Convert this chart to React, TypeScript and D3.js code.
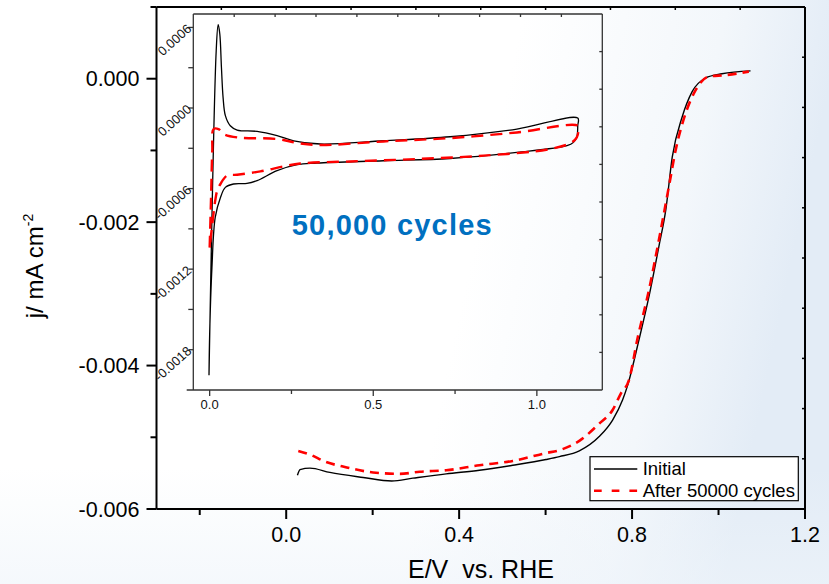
import React from "react";
import * as d3 from "d3";

// ---------- Data (main LSV curves) ----------
const initialE = [0.026, 0.032, 0.055, 0.101, 0.178, 0.244, 0.293, 0.370, 0.447, 0.524, 0.601, 0.632, 0.678, 0.724, 0.755, 0.778, 0.789, 0.816, 0.839, 0.862, 0.878, 0.893, 0.916, 0.939, 0.970, 1.008, 1.074];
const initialJ = [-0.00553, -0.00545, -0.00543, -0.00549, -0.00556, -0.00561, -0.00557, -0.00551, -0.00546, -0.00539, -0.00531, -0.00527, -0.00519, -0.00499, -0.00476, -0.00448, -0.00429, -0.00364, -0.00304, -0.00234, -0.00183, -0.00109, -0.00053, -0.00018, 0.00001, 0.00007, 0.00011];
const afterE = [0.028, 0.059, 0.086, 0.140, 0.201, 0.263, 0.309, 0.370, 0.447, 0.524, 0.601, 0.632, 0.678, 0.724, 0.755, 0.774, 0.793, 0.812, 0.839, 0.862, 0.885, 0.901, 0.924, 0.947, 0.977, 1.016, 1.070];
const afterJ = [-0.00519, -0.00525, -0.00533, -0.00542, -0.00549, -0.00551, -0.00548, -0.00546, -0.00539, -0.00533, -0.00522, -0.00518, -0.00505, -0.00481, -0.00462, -0.00439, -0.00420, -0.00364, -0.00295, -0.00225, -0.00151, -0.00099, -0.00048, -0.00016, 0.00003, 0.00005, 0.00010];

// ---------- Data (inset CV curves) ----------
const cvInitialE = [-0.002, 0.020, 0.026, 0.031, 0.036, 0.041, 0.048, 0.063, 0.084, 0.145, 0.206, 0.257, 0.338, 0.531, 0.735, 0.939, 1.125, 1.125, 1.122, 1.112, 1.092, 0.939, 0.735, 0.531, 0.328, 0.267, 0.206, 0.145, 0.114, 0.073, 0.048, 0.033, 0.017, 0.007, 0.000, -0.002];
const cvInitialJ = [-0.00199, 0.000427, 0.00062, 0.000551, 0.000302, 0.000079, -0.000057, -0.000132, -0.000164, -0.000174, -0.000206, -0.000244, -0.000268, -0.000244, -0.000214, -0.000157, -0.000075, -0.000132, -0.000219, -0.000256, -0.000281, -0.000331, -0.000376, -0.000393, -0.00041, -0.000422, -0.000467, -0.000541, -0.000562, -0.000566, -0.000591, -0.000666, -0.000815, -0.001187, -0.001683, -0.00199];
const cvAfterE = [0.000, 0.004, 0.008, 0.012, 0.027, 0.043, 0.084, 0.206, 0.277, 0.338, 0.531, 0.735, 0.939, 1.125, 1.127, 1.122, 1.107, 1.040, 0.837, 0.633, 0.430, 0.277, 0.226, 0.155, 0.084, 0.053, 0.033, 0.023, 0.017, 0.007, 0.000];
const cvAfterJ = [-0.00104, -0.00069, -0.000319, -0.000157, -0.000157, -0.000194, -0.000219, -0.000231, -0.000264, -0.000276, -0.000249, -0.000224, -0.000182, -0.000132, -0.000169, -0.000219, -0.000256, -0.000306, -0.000355, -0.00038, -0.000398, -0.000413, -0.000435, -0.000472, -0.000497, -0.000504, -0.000566, -0.000616, -0.00069, -0.000889, -0.00104];

// ---------- Ticks ----------
const mainXTicks = [0.0, 0.4, 0.8, 1.2];
const mainXLabels = ["0.0", "0.4", "0.8", "1.2"];
const mainXMinor = [-0.2, 0.2, 0.6, 1.0];
const mainYTicks = [0.0, -0.002, -0.004, -0.006];
const mainYLabels = ["0.000", "-0.002", "-0.004", "-0.006"];
const mainYMinor = [0.001, -0.001, -0.003, -0.005];
const insetXTicks = [0.0, 0.5, 1.0];
const insetXLabels = ["0.0", "0.5", "1.0"];
const insetXMinor = [0.25, 0.75];
const insetYTicks = [0.0006, 0.0, -0.0006, -0.0012, -0.0018];
const insetYLabels = ["0.0006", "0.0000", "-0.0006", "-0.0012", "-0.0018"];
const insetYMinor = [0.0003, -0.0003, -0.0009, -0.0015];

const seriesNames = ["Initial", "After 50000 cycles"];
const FONT = "'Liberation Sans', Arial, Helvetica, sans-serif";

function divisions(domain: number[], n: number) {
  return d3.range(1, n).map((i) => domain[0] + (i * (domain[1] - domain[0])) / n);
}

export default function App() {
  const W = 829, H = 584;
  const x = d3.scaleLinear().domain([-0.3, 1.2]).range([156.5, 805]);
  const y = d3.scaleLinear().domain([-0.006, 0.001]).range([509, 7]);
  const xi = d3.scaleLinear().domain([-0.05, 1.2]).range([193.3, 602.3]);
  const yi = d3.scaleLinear().domain([-0.0021, 0.0007]).range([390, 14]);

  const mainLine = d3.line<[number, number]>().x((d) => x(d[0])).y((d) => y(d[1])).curve(d3.curveMonotoneX);
  const cvLine = d3.line<[number, number]>().x((d) => xi(d[0])).y((d) => yi(d[1])).curve(d3.curveCatmullRom.alpha(0.5));

  const zipPts = (a: number[], b: number[]) => a.map((v, i) => [v, b[i]] as [number, number]);

  const [x0, x1] = x.range();
  const [yb, yt] = y.range();
  const [ix0, ix1] = xi.range();
  const [iyb, iyt] = yi.range();

  return (
    <div style={{ position: "absolute", left: 0, top: 0, width: W, height: H }}>
      <svg width={W} height={H} style={{ display: "block" }} fontFamily={FONT}>
        <defs>
          <linearGradient id="bg" x1="0" y1="0" x2="1" y2="0.15">
            <stop offset="0" stopColor="#ffffff" />
            <stop offset="0.62" stopColor="#ffffff" />
            <stop offset="0.86" stopColor="#f3f7fb" />
            <stop offset="1" stopColor="#e3ecf6" />
          </linearGradient>
          <linearGradient id="bg2" x1="0" y1="0" x2="0" y2="1">
            <stop offset="0.8" stopColor="#eef4fa" stopOpacity="0" />
            <stop offset="1" stopColor="#eef4fa" stopOpacity="0.6" />
          </linearGradient>
        </defs>
        <rect x={0} y={0} width={W} height={H} fill="url(#bg)" />
        <rect x={0} y={0} width={W} height={H} fill="url(#bg2)" />

        {/* ---------- Main axes ---------- */}
        <g stroke="#000" strokeWidth={2} fill="none">
          <line x1={x0} y1={yb} x2={x1} y2={yb} />
          <line x1={x0} y1={yt} x2={x1} y2={yt} />
          <line x1={x0} y1={yb} x2={x0} y2={yt} />
          <line x1={x1} y1={yb} x2={x1} y2={yt} />
          {mainXTicks.map((t) => (
            <line key={"mxt" + t} x1={x(t)} x2={x(t)} y1={yb} y2={yb + 10} />
          ))}
          {mainXMinor.map((t) => (
            <line key={"mxm" + t} x1={x(t)} x2={x(t)} y1={yb} y2={yb + 6} />
          ))}
          {mainYTicks.map((t) => (
            <line key={"myt" + t} x1={x0 - 10} x2={x0} y1={y(t)} y2={y(t)} />
          ))}
          {mainYMinor.map((t) => (
            <line key={"mym" + t} x1={x0 - 6} x2={x0} y1={y(t)} y2={y(t)} />
          ))}
          {divisions(x.domain(), 10).map((t, i) => (
            <line key={"mtop" + i} x1={x(t)} x2={x(t)} y1={yt} y2={yt + 3} strokeWidth={1.5} />
          ))}
          {divisions(y.domain(), 10).map((t, i) => (
            <line key={"mright" + i} x1={x1 - 3} x2={x1} y1={y(t)} y2={y(t)} strokeWidth={1.5} />
          ))}
        </g>
        <g fontSize={21.5} fill="#000">
          {mainXTicks.map((t, i) => (
            <text key={"mxl" + t} x={x(t)} y={542} textAnchor="middle">{mainXLabels[i]}</text>
          ))}
          {mainYTicks.map((t, i) => (
            <text key={"myl" + t} x={139.5} y={y(t) + 7.5} textAnchor="end">{mainYLabels[i]}</text>
          ))}
        </g>
        <text x={408} y={578} fontSize={25} fill="#000" xmlSpace="preserve">E/V  vs. RHE</text>
        <text transform="translate(43,266) rotate(-90)" fontSize={24} textAnchor="middle" fill="#000">
          j/ mA cm<tspan fontSize={14} dy={-10}>-2</tspan>
        </text>

        {/* ---------- Main curves ---------- */}
        <path d={mainLine(zipPts(initialE, initialJ)) || ""} fill="none" stroke="#000" strokeWidth={1.4} />
        <path d={mainLine(zipPts(afterE, afterJ)) || ""} fill="none" stroke="#ff0000" strokeWidth={2.6} strokeDasharray="9,6" />

        {/* ---------- Legend ---------- */}
        <rect x={590} y={456.7} width={208.3} height={44} fill="#ffffff" stroke="#000" strokeWidth={1.2} />
        <line x1={594} x2={637.3} y1={469} y2={469} stroke="#000" strokeWidth={1.4} />
        <line x1={594} x2={637.3} y1={490.7} y2={490.7} stroke="#ff0000" strokeWidth={2.4} strokeDasharray="7.7,10" />
        <text x={642.7} y={475} fontSize={18.5} fill="#000">{seriesNames[0]}</text>
        <text x={642.7} y={496.7} fontSize={18.5} fill="#000">{seriesNames[1]}</text>

        {/* ---------- Inset ---------- */}
        <g stroke="#333" strokeWidth={1.3} fill="none">
          <line x1={186.7} y1={iyb} x2={ix1} y2={iyb} />
          <line x1={ix0} y1={iyt} x2={ix1} y2={iyt} />
          <line x1={ix0} y1={iyb} x2={ix0} y2={iyt} />
          <line x1={ix1} y1={iyb} x2={ix1} y2={iyt} />
          {insetXTicks.map((t) => (
            <line key={"ixt" + t} x1={xi(t)} x2={xi(t)} y1={iyb} y2={iyb + 6} />
          ))}
          {insetXMinor.map((t) => (
            <line key={"ixm" + t} x1={xi(t)} x2={xi(t)} y1={iyb} y2={iyb + 4} />
          ))}
          {insetYTicks.concat(insetYMinor).map((t) => (
            <line key={"iyt" + t} x1={ix0 - 5} x2={ix0} y1={yi(t)} y2={yi(t)} />
          ))}
          {divisions(xi.domain(), 10).map((t, i) => (
            <line key={"itop" + i} x1={xi(t)} x2={xi(t)} y1={iyt} y2={iyt + 3} />
          ))}
          {divisions(yi.domain(), 10).map((t, i) => (
            <line key={"iright" + i} x1={ix1 - 3} x2={ix1} y1={yi(t)} y2={yi(t)} />
          ))}
        </g>
        <g fontSize={13} fill="#111">
          {insetXTicks.map((t, i) => (
            <text key={"ixl" + t} x={xi(t)} y={409} textAnchor="middle">{insetXLabels[i]}</text>
          ))}
          {insetYTicks.map((t, i) => (
            <text key={"iyl" + t} transform={`translate(${ix0 - 1},${yi(t) + 2.5}) rotate(-42)`} textAnchor="end">
              {insetYLabels[i]}
            </text>
          ))}
        </g>
        <path d={cvLine(zipPts(cvInitialE, cvInitialJ)) || ""} fill="none" stroke="#000" strokeWidth={1.3} />
        <path d={cvLine(zipPts(cvAfterE, cvAfterJ)) || ""} fill="none" stroke="#ff0000" strokeWidth={2.4} strokeDasharray="12,7" />
        <text x={291.7} y={235} fontSize={29} fontWeight="bold" fill="#0070c0" textLength={200} lengthAdjust="spacing">
          50,000 cycles
        </text>
      </svg>
    </div>
  );
}
